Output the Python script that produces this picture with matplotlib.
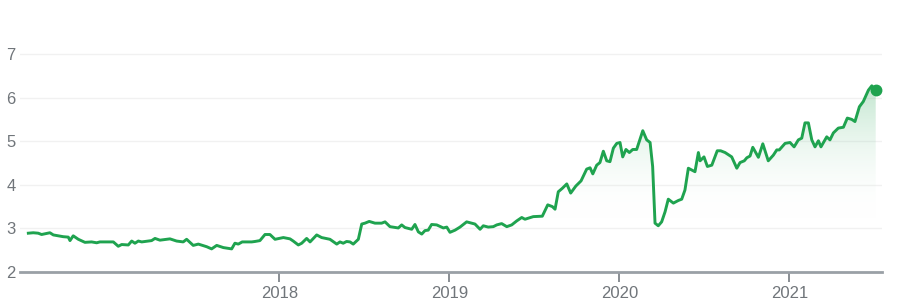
import matplotlib.pyplot as plt
import numpy as np
from matplotlib.colors import LinearSegmentedColormap

# time as decimal year
years = [
    2016.524, 2016.553, 2016.582, 2016.602, 2016.651, 2016.671, 2016.729, 2016.759,
    2016.769, 2016.788, 2016.818, 2016.857, 2016.896, 2016.926, 2016.945, 2017.024,
    2017.053, 2017.073, 2017.112, 2017.132, 2017.151, 2017.171, 2017.191, 2017.249,
    2017.269, 2017.298, 2017.357, 2017.396, 2017.435, 2017.455, 2017.494, 2017.524,
    2017.573, 2017.602, 2017.632, 2017.671, 2017.720, 2017.739, 2017.759, 2017.782,
    2017.838, 2017.857, 2017.886, 2017.916, 2017.945, 2017.975, 2018.024, 2018.063,
    2018.082, 2018.112, 2018.132, 2018.161, 2018.181, 2018.220, 2018.249, 2018.298,
    2018.338, 2018.357, 2018.376, 2018.396, 2018.416, 2018.435, 2018.465, 2018.485,
    2018.504, 2018.529, 2018.563, 2018.602, 2018.622, 2018.651, 2018.700, 2018.720,
    2018.739, 2018.779, 2018.798, 2018.818, 2018.838, 2018.857, 2018.876, 2018.896,
    2018.926, 2018.965, 2018.985, 2019.004, 2019.034, 2019.063, 2019.102, 2019.151,
    2019.181, 2019.200, 2019.229, 2019.259, 2019.279, 2019.308, 2019.338, 2019.367,
    2019.396, 2019.426, 2019.445, 2019.494, 2019.547, 2019.579, 2019.606, 2019.622,
    2019.641, 2019.665, 2019.691, 2019.714, 2019.744, 2019.775, 2019.808, 2019.828,
    2019.844, 2019.867, 2019.886, 2019.906, 2019.926, 2019.945, 2019.965, 2019.985,
    2020.004, 2020.020, 2020.039, 2020.059, 2020.079, 2020.102, 2020.138, 2020.161,
    2020.181, 2020.196, 2020.210, 2020.229, 2020.249, 2020.269, 2020.288, 2020.318,
    2020.347, 2020.367, 2020.386, 2020.406, 2020.445, 2020.465, 2020.475, 2020.498,
    2020.518, 2020.544, 2020.576, 2020.596, 2020.622, 2020.661, 2020.691, 2020.710,
    2020.735, 2020.750, 2020.769, 2020.785, 2020.818, 2020.844, 2020.876, 2020.906,
    2020.926, 2020.941, 2020.975, 2021.004, 2021.028, 2021.053, 2021.073, 2021.092,
    2021.112, 2021.132, 2021.151, 2021.171, 2021.186, 2021.220, 2021.239, 2021.259,
    2021.288, 2021.318, 2021.341, 2021.367, 2021.386, 2021.412, 2021.435, 2021.465,
    2021.485, 2021.508,
]
values = [
    2.89, 2.90, 2.89, 2.86, 2.90, 2.85, 2.81, 2.80,
    2.72, 2.83, 2.75, 2.68, 2.69, 2.67, 2.69, 2.69,
    2.59, 2.63, 2.62, 2.71, 2.66, 2.71, 2.69, 2.72,
    2.77, 2.73, 2.76, 2.71, 2.69, 2.75, 2.61, 2.64,
    2.58, 2.53, 2.61, 2.56, 2.53, 2.66, 2.64, 2.69,
    2.69, 2.70, 2.72, 2.86, 2.86, 2.75, 2.79, 2.76,
    2.71, 2.62, 2.66, 2.77, 2.69, 2.85, 2.79, 2.75,
    2.64, 2.69, 2.66, 2.70, 2.69, 2.64, 2.75, 3.10,
    3.12, 3.16, 3.12, 3.12, 3.15, 3.04, 3.01, 3.08,
    3.02, 2.98, 3.09, 2.92, 2.87, 2.95, 2.96, 3.09,
    3.08, 3.01, 3.03, 2.91, 2.96, 3.03, 3.15, 3.10,
    2.98, 3.06, 3.03, 3.04, 3.08, 3.11, 3.04, 3.08,
    3.17, 3.25, 3.21, 3.27, 3.28, 3.54, 3.50, 3.44,
    3.84, 3.92, 4.02, 3.81, 3.97, 4.09, 4.36, 4.39,
    4.25, 4.45, 4.51, 4.77, 4.55, 4.53, 4.84, 4.95,
    4.97, 4.64, 4.81, 4.74, 4.81, 4.81, 5.24, 5.03,
    4.97, 4.42, 3.12, 3.06, 3.15, 3.38, 3.67, 3.58,
    3.64, 3.67, 3.88, 4.38, 4.30, 4.74, 4.55, 4.64,
    4.42, 4.45, 4.78, 4.78, 4.74, 4.64, 4.38, 4.51,
    4.55, 4.62, 4.66, 4.86, 4.63, 4.94, 4.55, 4.68,
    4.80, 4.80, 4.95, 4.97, 4.87, 5.03, 5.07, 5.42,
    5.42, 5.03, 4.87, 5.01, 4.87, 5.10, 5.03, 5.19,
    5.30, 5.32, 5.53, 5.50, 5.45, 5.79, 5.91, 6.17,
    6.27, 6.17,
]
yticks = [2, 3, 4, 5, 6, 7]
xticks = [2018, 2019, 2020, 2021]

green = '#1fa34f'
grey = '#70757a'

fig = plt.figure(figsize=(9.02, 3.06), dpi=100)
ax = fig.add_axes([20 / 902, 34 / 306, 862 / 902, 242 / 306])

x = np.array(years)
y = np.array(values)

# gradient fill under the line
cmap = LinearSegmentedColormap.from_list('g', [(1, 1, 1, 0), (0.12, 0.64, 0.31, 0.3)])
grad = np.linspace(0, 1, 256).reshape(-1, 1)
img = ax.imshow(grad, cmap=cmap, aspect='auto', origin='lower',
                extent=[x[0], x[-1], 3.2, 6.4], zorder=1)
poly = ax.fill_between(x, y, 2, color='none')
img.set_clip_path(poly.get_paths()[0], transform=ax.transData)

ax.plot(x, y, '-', color=green, lw=2.1, zorder=3, solid_joinstyle='round')
ax.plot(x[-1], y[-1], 'o', color=green, ms=7.5, zorder=4)

ax.set_xlim(2016.475, 2021.545)
ax.set_ylim(2, 7.55)

ax.set_yticks(yticks)
ax.set_xticks(xticks)
ax.set_xticklabels([str(v) for v in xticks])
ax.grid(axis='y', color='#f1f1f1', lw=1)
ax.set_axisbelow(True)

for s in ['top', 'right', 'left']:
    ax.spines[s].set_visible(False)
ax.spines['bottom'].set_color('#9aa0a6')
ax.spines['bottom'].set_linewidth(2)
ax.spines['bottom'].set_zorder(5)

ax.tick_params(axis='y', length=0, pad=3, labelsize=12, labelcolor=grey)
ax.tick_params(axis='x', length=7, width=1.3, color='#80868b', pad=3,
               labelsize=12, labelcolor=grey)
for lab in ax.get_xticklabels() + ax.get_yticklabels():
    lab.set_fontfamily('Liberation Sans')

plt.savefig('out.png', dpi=100)
